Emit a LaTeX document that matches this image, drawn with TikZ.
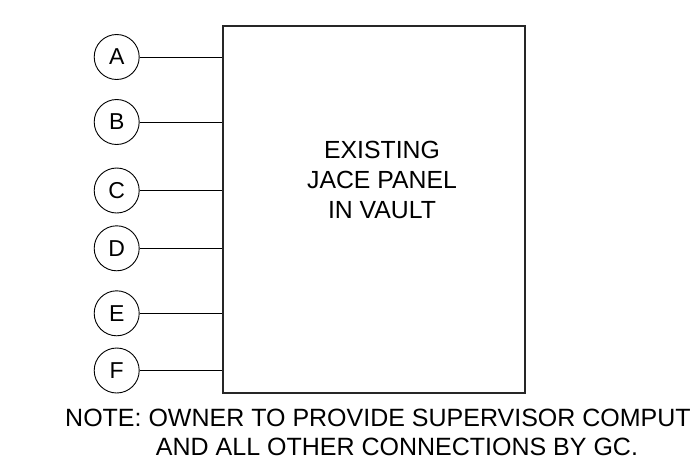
\documentclass[tikz,border=0pt]{standalone}
\usepackage{fontspec}
\setmainfont{Liberation Sans}
\begin{document}
\begin{tikzpicture}[x=1pt,y=-1pt,
  lbl/.style={circle,draw,line width=0.9pt,minimum size=45pt,inner sep=0pt,font=\fontsize{23}{25}\selectfont},
  wire/.style={line width=1pt},
  panelbox/.style={draw=black!85,line width=1.5pt,minimum width=302pt,minimum height=367pt,inner sep=0pt},
  txt/.style={font=\fontsize{24.8}{30}\selectfont,inner sep=0pt},
  notetxt/.style={font=\fontsize{25}{30}\selectfont,inner sep=0pt}]
\useasboundingbox (0,0) rectangle (691,461);
\clip (0,0) rectangle (691,461);
\node[panelbox] (panel) at (374,209.5) {};
\node[txt,align=center] (label) at (382,179.5) {EXISTING\\JACE PANEL\\IN VAULT};
\node[lbl] (A) at (116.7,57) {A};
\node[lbl] (B) at (116.7,122) {B};
\node[lbl] (C) at (116.7,190.5) {C};
\node[lbl] (D) at (116.7,248.3) {D};
\node[lbl] (E) at (116.7,313.3) {E};
\node[lbl] (F) at (116.7,370.5) {F};
\foreach \n in {A,B,C,D,E,F}
  \draw[wire] (\n) -- (\n -| panel.west);
\node[notetxt,anchor=west] (note1) at (65,417.5) {NOTE: OWNER TO PROVIDE SUPERVISOR COMPUT};
\node[notetxt] (note2) at (397,447) {AND ALL OTHER CONNECTIONS BY GC.};
\end{tikzpicture}
\end{document}
